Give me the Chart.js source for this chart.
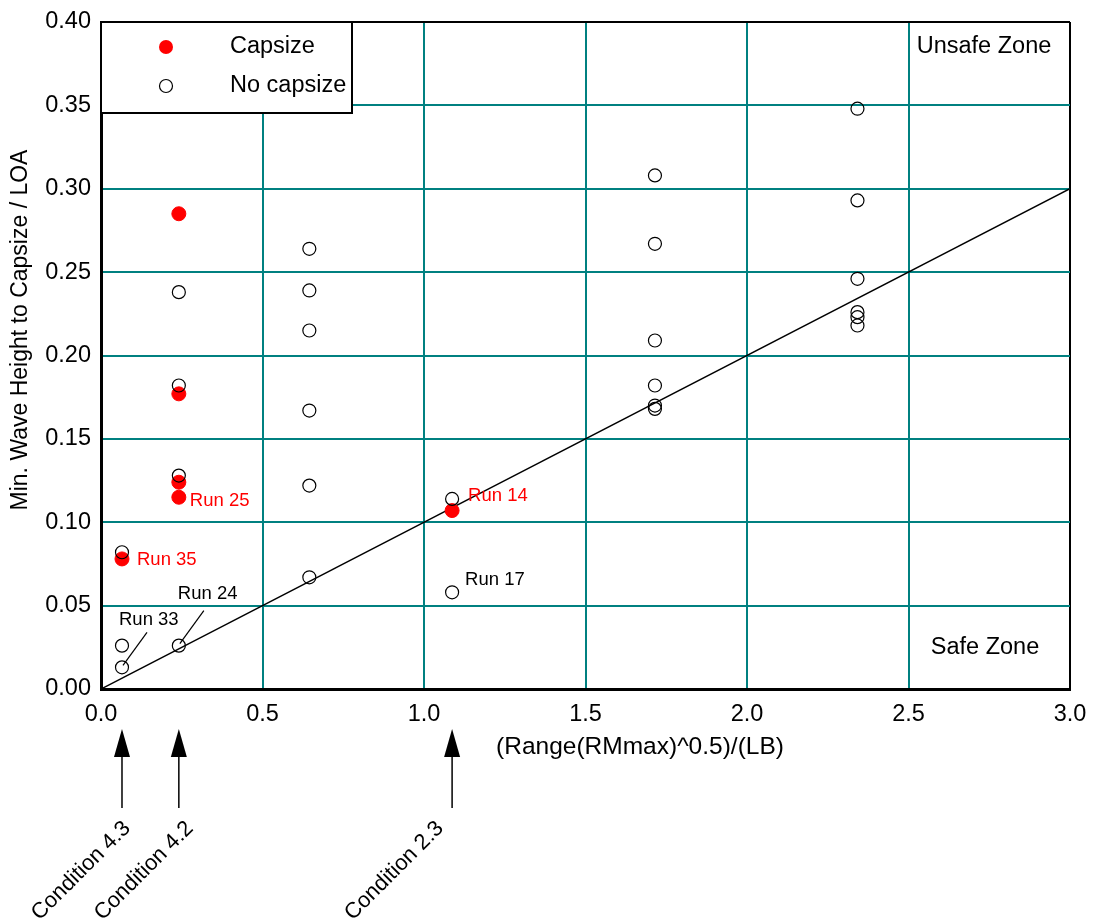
<!DOCTYPE html>
<html lang="en">
<head>
    <meta charset="UTF-8">
    <title>Capsize chart</title>
    <script src="https://cdn.jsdelivr.net/npm/chart.js"></script>
    <style>
        html, body { margin: 0; padding: 0; background: #fff; }
        #wrap { width: 1093px; height: 919px; }
    </style>
</head>
<body>
    <div id="wrap"><canvas id="myChart" width="1093" height="919"></canvas></div>

    <script>
        // capsized runs
        const capX = [0.241, 0.241, 0.241, 0.241, 0.065, 1.087];
        const capY = [0.285, 0.177, 0.124, 0.115, 0.078, 0.107];

        // runs without capsize
        const noX = [0.065, 0.065, 0.065,
                     0.241, 0.241, 0.241, 0.241,
                     0.645, 0.645, 0.645, 0.645, 0.645, 0.645,
                     1.087, 1.087,
                     1.715, 1.715, 1.715, 1.715, 1.715, 1.715,
                     2.342, 2.342, 2.342, 2.342, 2.342, 2.342];
        const noY = [0.082, 0.026, 0.013,
                     0.238, 0.182, 0.128, 0.026,
                     0.264, 0.239, 0.215, 0.167, 0.122, 0.067,
                     0.114, 0.058,
                     0.308, 0.267, 0.209, 0.182, 0.170, 0.168,
                     0.348, 0.293, 0.246, 0.226, 0.223, 0.218];

        // safe / unsafe boundary
        const limitX = [0, 3.0];
        const limitY = [0, 0.30];

        const xTicks = [0, 0.5, 1.0, 1.5, 2.0, 2.5, 3.0];
        const yTicks = [0, 0.05, 0.10, 0.15, 0.20, 0.25, 0.30, 0.35, 0.40];

        const xTitle = '(Range(RMmax)^0.5)/(LB)';
        const yTitle = 'Min. Wave Height to Capsize / LOA';

        // labelled runs
        const runNames = ['Run 25', 'Run 35', 'Run 14', 'Run 17', 'Run 24', 'Run 33'];
        const runX = [0.241, 0.065, 1.087, 1.087, 0.241, 0.065];
        const runY = [0.115, 0.078, 0.114, 0.058, 0.026, 0.013];
        const runCapsized = [true, true, true, false, false, false];

        // test conditions marked under the x axis
        const condNames = ['Condition 4.3', 'Condition 4.2', 'Condition 2.3'];
        const condX = [0.065, 0.241, 1.087];

        const FONT = "'Liberation Sans', Arial, sans-serif";
        const RED = '#ff0000';
        const TEAL = '#008080';

        const toPoints = (xs, ys) => xs.map((x, i) => ({ x: x, y: ys[i] }));

        // legend box, axis titles, run labels, zone labels and condition arrows
        const notes = {
            id: 'notes',
            afterDatasetsDraw(chart) {
                const ctx = chart.ctx;
                const xs = chart.scales.x;
                const ys = chart.scales.y;
                const area = chart.chartArea;
                ctx.save();

                // legend
                const lx = area.left, ly = area.top;
                ctx.fillStyle = '#fff';
                ctx.fillRect(lx, ly, 251, 91);
                ctx.strokeStyle = '#000';
                ctx.lineWidth = 2;
                ctx.strokeRect(lx, ly, 251, 91);
                ctx.beginPath();
                ctx.arc(lx + 65, ly + 25, 7, 0, Math.PI * 2);
                ctx.fillStyle = RED;
                ctx.fill();
                ctx.beginPath();
                ctx.arc(lx + 65, ly + 64, 6.5, 0, Math.PI * 2);
                ctx.lineWidth = 1.2;
                ctx.stroke();
                ctx.fillStyle = '#000';
                ctx.font = '23.5px ' + FONT;
                ctx.textBaseline = 'middle';
                ctx.textAlign = 'left';
                ctx.fillText(chart.data.datasets[0].label, lx + 129, ly + 25);
                ctx.fillText(chart.data.datasets[1].label, lx + 129, ly + 64);

                // zones
                ctx.textAlign = 'center';
                ctx.fillText('Unsafe Zone', area.right - 86, area.top + 25);
                ctx.fillText('Safe Zone', area.right - 85, area.bottom - 41);

                // axis titles
                ctx.font = '24.5px ' + FONT;
                ctx.fillText(xTitle, 640, area.bottom + 58);
                ctx.save();
                ctx.translate(21, 330);
                ctx.rotate(-Math.PI / 2);
                ctx.font = '23px ' + FONT;
                ctx.fillText(yTitle, 0, 0);
                ctx.restore();

                // run labels
                const offs = [[11, 4], [15, 1], [16, -3], [13, -12], [-1, -52], [-3, -47]];
                ctx.font = '18.5px ' + FONT;
                ctx.textAlign = 'left';
                runNames.forEach((name, i) => {
                    const px = xs.getPixelForValue(runX[i]);
                    const py = ys.getPixelForValue(runY[i]);
                    ctx.fillStyle = runCapsized[i] ? RED : '#000';
                    ctx.fillText(name, px + offs[i][0], py + offs[i][1]);
                });
                // leader lines for Run 24 / Run 33
                ctx.strokeStyle = '#000';
                ctx.lineWidth = 1.2;
                [4, 5].forEach(i => {
                    const px = xs.getPixelForValue(runX[i]);
                    const py = ys.getPixelForValue(runY[i]);
                    ctx.beginPath();
                    ctx.moveTo(px + 25, py - 35);
                    ctx.lineTo(px + 1, py - 2);
                    ctx.stroke();
                });

                // condition arrows
                const nudge = [5, 11, -12];
                condNames.forEach((name, i) => {
                    const px = xs.getPixelForValue(condX[i]);
                    const tip = area.bottom + 40;
                    ctx.strokeStyle = '#000';
                    ctx.fillStyle = '#000';
                    ctx.lineWidth = 1.5;
                    ctx.beginPath();
                    ctx.moveTo(px, tip + 26);
                    ctx.lineTo(px, area.bottom + 119);
                    ctx.stroke();
                    ctx.beginPath();
                    ctx.moveTo(px, tip);
                    ctx.lineTo(px - 8, tip + 28);
                    ctx.lineTo(px + 8, tip + 28);
                    ctx.closePath();
                    ctx.fill();

                    ctx.save();
                    ctx.translate(px + nudge[i], area.bottom + 136);
                    ctx.rotate(-Math.PI / 4);
                    ctx.font = '22px ' + FONT;
                    ctx.textAlign = 'right';
                    ctx.textBaseline = 'middle';
                    ctx.fillText(name, 0, 0);
                    ctx.restore();
                });

                ctx.restore();
            }
        };

        const ctx = document.getElementById('myChart').getContext('2d');
        const myChart = new Chart(ctx, {
            type: 'scatter',
            data: {
                datasets: [
                    {
                        label: 'Capsize',
                        data: toPoints(capX, capY),
                        backgroundColor: RED,
                        borderColor: RED,
                        borderWidth: 1,
                        pointRadius: 7,
                        order: 2
                    },
                    {
                        label: 'No capsize',
                        data: toPoints(noX, noY),
                        backgroundColor: 'rgba(0,0,0,0)',
                        borderColor: '#000',
                        borderWidth: 1.2,
                        pointRadius: 6.5,
                        order: 1
                    },
                    {
                        label: 'limit',
                        type: 'line',
                        data: toPoints(limitX, limitY),
                        borderColor: '#000',
                        borderWidth: 1.5,
                        pointRadius: 0,
                        showLine: true,
                        order: 3
                    }
                ]
            },
            options: {
                responsive: false,
                animation: false,
                layout: { padding: { left: 0, top: 22, right: 23, bottom: 155 } },
                plugins: {
                    legend: { display: false },
                    tooltip: { enabled: false }
                },
                scales: {
                    x: {
                        type: 'linear',
                        min: 0,
                        max: 3.0,
                        afterBuildTicks: (s) => { s.ticks = xTicks.map(v => ({ value: v })); },
                        afterFit: (s) => { s.height = 75; s.paddingLeft = 0; s.paddingRight = 0; },
                        ticks: {
                            color: '#000',
                            font: { family: FONT, size: 23.5 },
                            padding: 11,
                            callback: (v) => v.toFixed(1)
                        },
                        grid: {
                            drawTicks: false,
                            lineWidth: 2,
                            color: (c) => c.tick && c.tick.value === 3.0 ? '#000' : TEAL
                        },
                        border: { color: '#000', width: 3 },
                        title: { display: false }
                    },
                    y: {
                        type: 'linear',
                        min: 0,
                        max: 0.40,
                        afterBuildTicks: (s) => { s.ticks = yTicks.map(v => ({ value: v })); },
                        afterFit: (s) => { s.width = 101; s.paddingTop = 0; s.paddingBottom = 0; },
                        ticks: {
                            color: '#000',
                            font: { family: FONT, size: 23.5 },
                            padding: 10,
                            callback: (v) => v.toFixed(2)
                        },
                        grid: {
                            drawTicks: false,
                            lineWidth: 2,
                            color: (c) => c.tick && Math.abs(c.tick.value - 0.40) < 1e-9 ? '#000' : TEAL
                        },
                        border: { color: '#000', width: 3 },
                        title: { display: false }
                    }
                }
            },
            plugins: [notes]
        });
    </script>
</body>
</html>
